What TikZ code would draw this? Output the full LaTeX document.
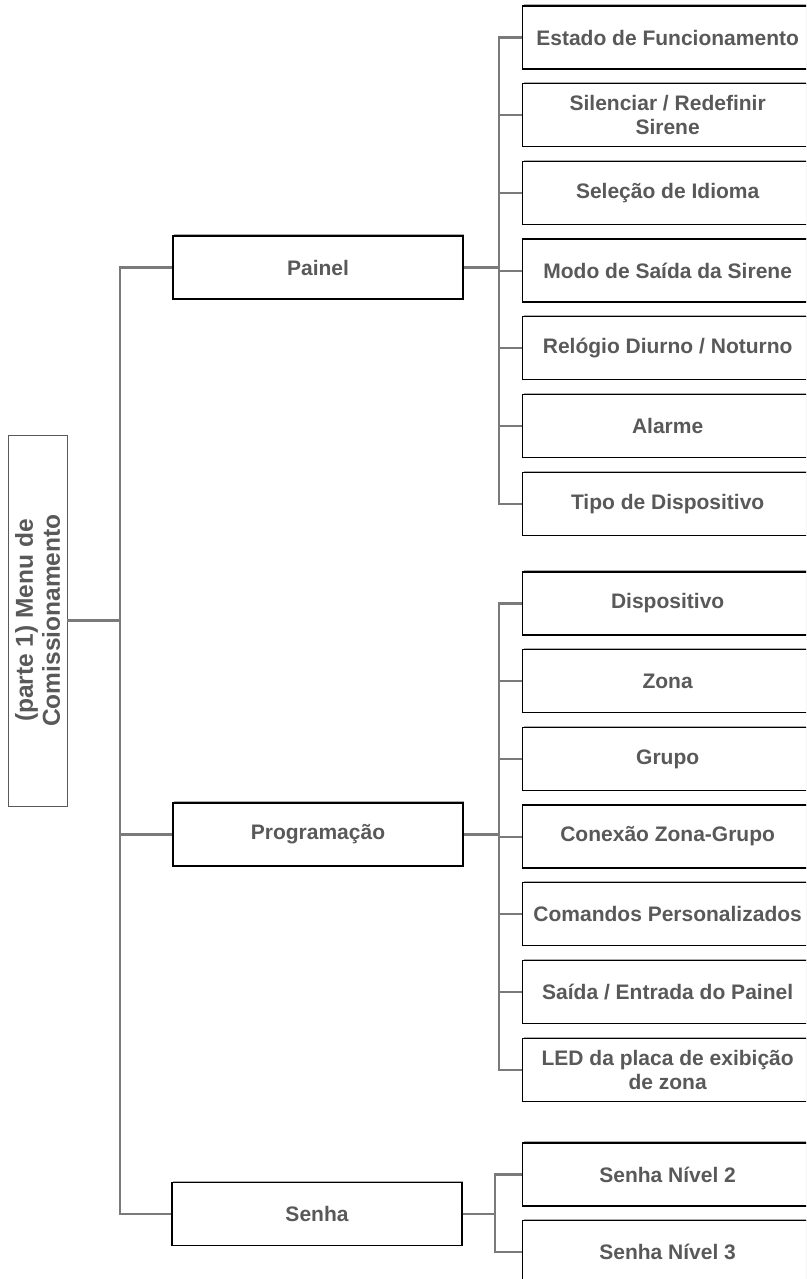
\documentclass[tikz,border=0pt]{standalone}
\usepackage{fontspec}
\setmainfont{Liberation Sans}
\usetikzlibrary{shadows}
\definecolor{txtgray}{HTML}{595959}
\definecolor{linegray}{HTML}{7A7A7A}
\tikzset{
  menubox/.style={draw=black, line width=1.3pt, fill=white,
    minimum width=290pt, minimum height=63pt, align=center,
    font=\fontsize{21}{24}\selectfont\bfseries, text=txtgray,
    drop shadow={shadow xshift=1.2pt, shadow yshift=1.6pt, fill=black!40, opacity=0.8}},
  subbox/.style={menubox, anchor=west},
  rootbox/.style={draw=black!65, line width=0.8pt, fill=white, rotate=90,
    minimum width=371pt, minimum height=59pt, align=center,
    font=\fontsize{24.5}{27}\selectfont\bfseries, text=txtgray},
  link/.style={draw=linegray, line width=2.2pt}
}
\begin{document}
\begin{tikzpicture}[x=1pt,y=-1pt]
\useasboundingbox (0,0) rectangle (806,1279);
\clip (0,0) rectangle (806,1279);

\coordinate (trunk) at (120,0);
\coordinate (pbr) at (499,0);
\coordinate (gbr) at (499,0);
\coordinate (sbr) at (495,0);

\node[rootbox] (menu) at (37.5,620.5) {(parte 1) Menu de\\Comissionamento};

\node[menubox] (painel) at (318,267.5) {Painel};
\node[menubox] (prog) at (318,834.5) {Programação};
\node[menubox] (senha) at (317,1214) {Senha};

\foreach \txt [count=\k from 0] in {Estado de Funcionamento, {Silenciar / Redefinir\\Sirene},
    Seleção de Idioma, Modo de Saída da Sirene, Relógio Diurno / Noturno, Alarme, Tipo de Dispositivo}
  \node[subbox] (pa\k) at (522,{37.5+77.7*\k}) {\txt};

\foreach \txt [count=\k from 0] in {Dispositivo, Zona, Grupo, Conexão Zona-Grupo,
    Comandos Personalizados, Saída / Entrada do Painel, {LED da placa de exibição\\de zona}}
  \node[subbox] (pg\k) at (522,{603.5+77.7*\k}) {\txt};

\foreach \txt [count=\k from 0] in {Senha Nível 2, Senha Nível 3}
  \node[subbox] (se\k) at (522,{1174.5+77.7*\k}) {\txt};

\draw[link] (painel.west) -- (painel.west -| trunk) -- (senha.west -| trunk) -- (senha.west);
\draw[link] (prog.west) -- (prog.west -| trunk);
\draw[link] (menu.south) -- (menu.south -| trunk);

\draw[link] (pa0.west) -- (pa0.west -| pbr) -- (pa6.west -| pbr) -- (pa6.west);
\foreach \k in {1,...,5}
  \draw[link] (pa\k.west) -- (pa\k.west -| pbr);
\draw[link] (painel.east) -- (painel.east -| pbr);

\draw[link] (pg0.west) -- (pg0.west -| gbr) -- (pg6.west -| gbr) -- (pg6.west);
\foreach \k in {1,...,5}
  \draw[link] (pg\k.west) -- (pg\k.west -| gbr);
\draw[link] (prog.east) -- (prog.east -| gbr);

\draw[link] (se0.west) -- (se0.west -| sbr) -- (se1.west -| sbr) -- (se1.west);
\draw[link] (senha.east) -- (senha.east -| sbr);
\end{tikzpicture}
\end{document}
